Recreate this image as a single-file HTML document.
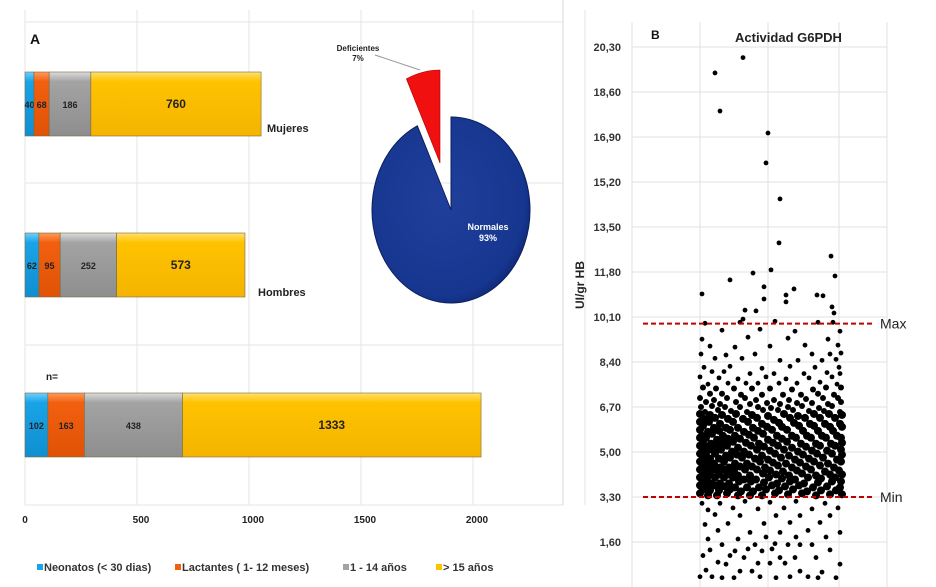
<!DOCTYPE html>
<html><head><meta charset="utf-8"><style>
body{margin:0;background:#fff;}
svg{display:block;font-family:"Liberation Sans",Arial,sans-serif;}
</style></head><body>
<svg id="s" width="936" height="587" viewBox="0 0 936 587">
<defs>
<linearGradient id="gb" x1="0" y1="0" x2="0" y2="1"><stop offset="0" stop-color="#6fd0ff"/><stop offset="0.15" stop-color="#1aa3e8"/><stop offset="1" stop-color="#0f8fd0"/></linearGradient>
<linearGradient id="go" x1="0" y1="0" x2="0" y2="1"><stop offset="0" stop-color="#ff9a5a"/><stop offset="0.15" stop-color="#f2600f"/><stop offset="1" stop-color="#e05205"/></linearGradient>
<linearGradient id="gg" x1="0" y1="0" x2="0" y2="1"><stop offset="0" stop-color="#dcdcdc"/><stop offset="0.15" stop-color="#a3a3a3"/><stop offset="1" stop-color="#8e8e8e"/></linearGradient>
<linearGradient id="gy" x1="0" y1="0" x2="0" y2="1"><stop offset="0" stop-color="#ffe070"/><stop offset="0.15" stop-color="#ffc200"/><stop offset="1" stop-color="#f4b400"/></linearGradient>
<radialGradient id="pb" cx="0.45" cy="0.45" r="0.6"><stop offset="0" stop-color="#1f3f9a"/><stop offset="0.85" stop-color="#163690"/><stop offset="1" stop-color="#0e2670"/></radialGradient>
</defs>
<g id="panelA"></g>
<g id="panelB"></g>
</svg>
<script>
const NS='http://www.w3.org/2000/svg';
// ---- Panel A data ----
const groups=['Mujeres','Hombres','Total'];
const neonatos=[40,62,102];
const lactantes=[68,95,163];
const ninos=[186,252,438];
const adultos=[760,573,1333];
const xTicks=[0,500,1000,1500,2000];
const xTickLabels=['0','500','1000','1500','2000'];
const pieLabels=['Normales','Deficientes'];
const pieValues=[93,7];
// ---- Panel B data ----
const yTicks=[1.6,3.3,5.0,6.7,8.4,10.1,11.8,13.5,15.2,16.9,18.6,20.3];
const yTickLabels=['1,60','3,30','5,00','6,70','8,40','10,10','11,80','13,50','15,20','16,90','18,60','20,30'];
const refMax=[9.85];
const refMin=[3.3];
const outX=[15,43,20,68,66,80,79,131,2,30,53,71,135,64,64,94,86,86,117,123,132,134,56,45,43];
const outY=[19.32,19.9,17.88,17.05,15.92,14.56,12.9,12.4,10.97,11.5,11.76,11.88,11.65,11.24,10.78,11.16,10.93,10.67,10.93,10.9,10.48,10.25,10.33,10.36,10.02];
const rowY=[9.9,9.6,9.3,9.0,8.7,8.5,8.2,8.0,7.8,7.6,7.4,7.2,7.0,6.85,6.7,6.55,6.4,6.25,6.1,5.95,5.8,5.65,5.5,5.35,5.2,5.05,4.9,4.75,4.6,4.45,4.3,4.15,4.0,3.85,3.7,3.55,3.4,3.1,2.85,2.6,2.3,2.0,1.75,1.5,1.3,1.05,0.8,0.5,0.25];
const rowX=[
[5,40,75,118,133],[22,60,95,140],[2,48,88,128],[10,35,70,105,138],[1,26,55,112,130,141],
[15,42,80,98,122,136],[4,30,62,90,115,139],[12,24,50,74,104,127,140],[0,19,38,66,86,109,132],
[8,28,46,58,79,97,120,137],[3,16,34,52,70,92,113,126,141],[10,22,41,62,83,101,118,134],
[0,14,27,45,56,74,89,106,123,138],[6,20,36,50,67,80,97,112,128,141],[1,12,25,40,58,71,88,102,119,132],
[5,18,31,47,63,78,93,109,124,140],[0,10,22,36,52,68,84,98,114,129,142],[4,15,28,43,57,74,90,105,120,135],
[0,9,20,33,48,62,79,94,110,125,140],[3,14,26,38,53,67,82,99,114,130,142],[0,8,19,30,44,58,72,87,103,118,133],
[2,12,23,35,49,63,77,92,107,122,137],[0,6,17,28,40,54,68,82,96,111,126,141],[3,11,22,33,46,59,73,87,101,116,131,142],
[0,7,16,27,38,51,64,78,92,106,120,135],[2,12,21,32,44,57,70,84,98,112,127,141],[0,6,15,26,37,49,62,75,89,103,117,132,142],
[3,10,19,30,42,55,68,81,95,109,123,137],[0,7,14,24,35,47,60,73,86,100,114,128,141],[2,11,20,29,40,52,65,78,92,106,120,134],
[0,6,15,24,34,45,57,70,83,97,111,125,139],[3,10,19,28,38,50,63,76,89,102,116,130,142],[0,7,15,24,33,44,56,69,82,95,108,121,135],
[2,11,20,29,39,51,64,77,90,104,118,132,141],[0,6,15,25,35,47,59,72,85,99,113,127,140],[3,10,19,30,41,53,66,79,93,107,121,136],
[0,8,17,27,38,50,62,75,88,102,116,130,142],
[2,20,45,70,96,125],[8,33,58,84,112,138],[15,40,76,100,130],[5,28,64,90,120],[18,50,80,108,140],
[8,38,66,96,126],[22,55,75,88,100,112],[10,35,48,62,72,130],[3,30,44,80,95,116],[18,26,58,70,85,140],
[6,40,52,100,122],[0,12,22,34,60,76,90,108,118,136]];

function el(tag,attrs,parent,text){const e=document.createElementNS(NS,tag);for(const k in attrs)e.setAttribute(k,attrs[k]);if(text!==undefined)e.textContent=text;parent.appendChild(e);return e;}

// ---- Panel A ----
const A=document.getElementById('panelA');
const ax0=25, aScale=0.224;
const X=v=>ax0+v*aScale;
for(let v=0;v<=2500;v+=500){const g=el('line',{x1:X(v),x2:X(v),y1:10,y2:505,stroke:'#e4e4e4','stroke-width':1},A);

}
[22,183,345,505].forEach(y=>{const g=el('line',{x1:ax0,x2:563,y1:y,y2:y,stroke:'#e4e4e4','stroke-width':1},A);

});
const bd=el('line',{x1:563,x2:563,y1:0,y2:505,stroke:'#d8d8d8'},A);


xTicks.forEach((v,i)=>{const t=el('text',{x:X(v)+(i==0?0:4),y:523,'text-anchor':'middle','font-size':10,'font-weight':'bold',fill:'#222'},A,xTickLabels[i]);

});
const tA=el('text',{x:30,y:44,'font-size':14,'font-weight':'bold',fill:'#111'},A,'A');


const barTop=[72,233,393], barH=64;
const series=[neonatos,lactantes,ninos,adultos];
const fills=['url(#gb)','url(#go)','url(#gg)','url(#gy)'];
const sNames=['neonatos','lactantes','ninos','adultos'];
groups.forEach((g,gi)=>{
 let acc=0;
 series.forEach((s,si)=>{
  const x1=X(acc), w=s[gi]*aScale;
  const r=el('rect',{x:x1,y:barTop[gi],width:w,height:barH,fill:fills[si],stroke:'#7a6a40','stroke-width':0.6},A);
  
  
  const fs=(si==3)?12:9;
  const t=el('text',{x:x1+w/2,y:barTop[gi]+barH/2+4,'text-anchor':'middle','font-size':fs,'font-weight':'bold',fill:'#222'},A,String(s[gi]));
  
  
  acc+=s[gi];
 });
});
[['Mujeres',267,132],['Hombres',258,296]].forEach(c=>{const t=el('text',{x:c[1],y:c[2],'font-size':11,'font-weight':'bold',fill:'#222'},A,c[0]);

});
const nEq=el('text',{x:46,y:380,'font-size':10,'font-weight':'bold',fill:'#222'},A,'n=');


const lg=[['Neonatos (< 30 dias)',37,'#1aa3e8'],['Lactantes ( 1- 12 meses)',175,'#f2600f'],['1 - 14 años',343,'#a3a3a3'],['> 15 años',436,'#ffc200']];
lg.forEach(l=>{const g=el('g',{},A);


el('rect',{x:l[1],y:564,width:6,height:6,fill:l[2]},g);
el('text',{x:l[1]+7,y:571,'font-size':11,'font-weight':'bold',fill:'#333'},g,l[0]);});
// pie
const pcx=451,pcy=210,prx=79,pry=93;
const tot=pieValues[0]+pieValues[1];
const defFrac=pieValues[1]/tot;
const a0=-Math.PI/2, a1=-Math.PI/2-defFrac*2*Math.PI;
function pt(cx,cy,a){return [cx+prx*Math.cos(a),cy+pry*Math.sin(a)];}
{const p1=pt(pcx,pcy,a0),p2=pt(pcx,pcy,a1);
const p=el('path',{d:`M${pcx},${pcy} L${p1[0]},${p1[1]} A${prx},${pry} 0 1 1 ${p2[0]},${p2[1]} Z`,fill:'url(#pb)',stroke:'#0b1f5c','stroke-width':1},A);


const ox=-11, oy=-47;
const c2x=pcx+ox,c2y=pcy+oy;
const q1=pt(c2x,c2y,a0),q2=pt(c2x,c2y,a1);
const r=el('path',{d:`M${c2x},${c2y} L${q1[0]},${q1[1]} A${prx},${pry} 0 0 0 ${q2[0]},${q2[1]} Z`,fill:'#f01010',stroke:'#a00','stroke-width':0.6},A);


const ln=el('line',{x1:375,y1:55,x2:420,y2:70,stroke:'#999'},A);


const t1=el('text',{x:358,y:51,'text-anchor':'middle','font-size':8,'font-weight':'bold',fill:'#222'},A,pieLabels[1]);


const t2=el('text',{x:358,y:61,'text-anchor':'middle','font-size':8,'font-weight':'bold',fill:'#222'},A,pieValues[1]+'%');


const t3=el('text',{x:488,y:230,'text-anchor':'middle','font-size':9,'font-weight':'bold',fill:'#fff'},A,pieLabels[0]);


const t4=el('text',{x:488,y:241,'text-anchor':'middle','font-size':9,'font-weight':'bold',fill:'#fff'},A,pieValues[0]+'%');

}

// ---- Panel B ----
const B=document.getElementById('panelB');
const Y=v=>497-(v-3.3)*(45/1.7);
const PX=v=>700+v;
[632,700,768,839,887].forEach(x=>{const g=el('line',{x1:x,x2:x,y1:22,y2:587,stroke:'#e2e2e2'},B);

});
yTicks.forEach((v,i)=>{const g=el('line',{x1:632,x2:887,y1:Y(v),y2:Y(v),stroke:'#e2e2e2'},B);


const t=el('text',{x:621,y:Y(v)+4,'text-anchor':'end','font-size':11,'font-weight':'bold',fill:'#333'},B,yTickLabels[i]);

});
const yt=el('text',{x:0,y:0,transform:'translate(584,285) rotate(-90)','text-anchor':'middle','font-size':12,'font-weight':'bold',fill:'#222'},B,'UI/gr HB');


const tb=el('text',{x:651,y:39,'font-size':12,'font-weight':'bold',fill:'#111'},B,'B');


const tt=el('text',{x:735,y:42,'font-size':13,'font-weight':'bold',fill:'#222'},B,'Actividad G6PDH');


const pts=el('g',{fill:'#000'},B);


outX.forEach((x,i)=>{const c=el('circle',{cx:PX(x),cy:Y(outY[i]),r:2.4},pts);

});
rowY.forEach((y,ri)=>{rowX[ri].forEach(x=>{const rr=(y>3.3&&y<6.5)?4.0:((y>=6.5&&y<7.5)?3.0:2.4);
const c=el('circle',{cx:PX(x),cy:Y(y)+((x%3)-1),r:rr},pts);

});});
[[refMax[0],'Max'],[refMin[0],'Min']].forEach(r=>{
const l=el('line',{x1:643,x2:873,y1:Y(r[0]),y2:Y(r[0]),stroke:'#c00000','stroke-width':2,'stroke-dasharray':'5,3'},B);


const t=el('text',{x:880,y:Y(r[0])+5,'font-size':14,fill:'#222'},B,r[1]);

});
</script>
</body></html>
